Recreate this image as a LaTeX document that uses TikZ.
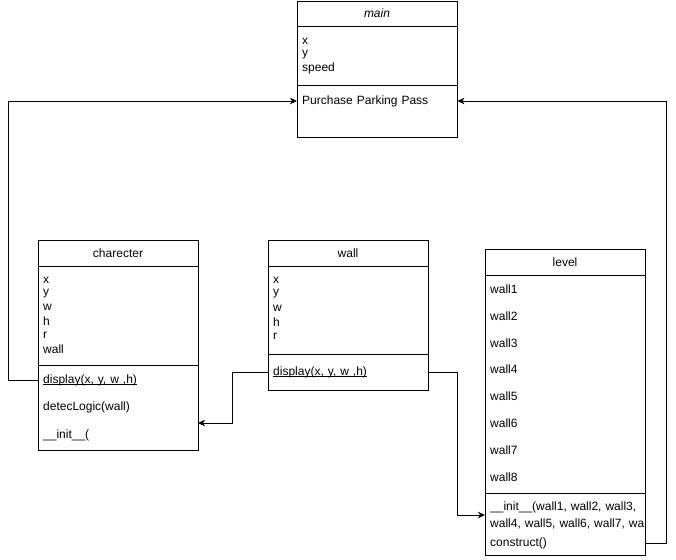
\documentclass[tikz,border=0pt]{standalone}
\usepackage{fontspec}
\setmainfont{Liberation Sans}
\usetikzlibrary{arrows.meta}
\newcommand{\umlfont}{\fontsize{12}{13.8}\selectfont}
% underline placed just below the baseline
\newcommand{\uln}[1]{\setbox0\hbox{#1}\rlap{\rule[-1.6pt]{\wd0}{0.6pt}}\box0}
\tikzset{
  box/.style={draw, line width=0.9pt, anchor=north west, minimum width=160pt, inner sep=0pt},
  sep/.style={line width=0.9pt},
  title/.style={font=\umlfont, inner sep=0pt},
  row/.style={anchor=west, inner xsep=5pt, inner ysep=0pt, text width=150pt, align=left, font=\umlfont},
  conn/.style={line width=0.9pt, -{Stealth[length=7pt, width=6.5pt, inset=2pt]}},
}
\begin{document}
\begin{tikzpicture}[x=1pt, y=-1pt]
  \useasboundingbox (0,0) rectangle (676,559);

  % class: main
  \node[box, minimum height=136pt] (main) at (297,1) {};
  \draw[sep] (297,26) -- (457,26);
  \draw[sep] (297,85) -- (457,85);
  \node[title, font=\umlfont\itshape] (maintitle) at (377,13) {main};
  \node[row] (mainx) at (297,41) {x};
  \node[row] (mainy) at (297,54.5) {y};
  \node[row] (mainspeed) at (297,68) {speed};
  \node[row] (mainop) at (297,101) {Purchase Parking Pass};

  % class: charecter
  \node[box, minimum height=210pt] (char) at (38,240) {};
  \draw[sep] (38,266) -- (198,266);
  \draw[sep] (38,365) -- (198,365);
  \node[title] (chartitle) at (118,253) {charecter};
  \foreach \t [count=\i from 0] in {x,y,w,h,r,wall}
    \node[row] (charattr\i) at (38,280+13.8*\i) {\t};
  \node[row] (chardisp) at (38,380) {\uln{display(x, y, w ,h)}};
  \node[row] (chardet) at (38,407) {detecLogic(wall)};
  \node[row] (charinit) at (38,435) {\_\_init\_\_(};
  \coordinate (charin) at (198,423);

  % class: wall
  \node[box, minimum height=150pt] (wall) at (268,240) {};
  \draw[sep] (268,266) -- (428,266);
  \draw[sep] (268,354) -- (428,354);
  \node[title] (walltitle) at (348,253) {wall};
  \foreach \t [count=\i from 0] in {x,y,w,h,r}
    \node[row] (wallattr\i) at (268,280+14*\i) {\t};
  \node[row] (walldisp) at (268,372) {\uln{display(x, y, w ,h)}};

  % class: level
  \node[box, minimum height=306pt] (level) at (485,249) {};
  \draw[sep] (485,275) -- (645,275);
  \draw[sep] (485,493) -- (645,493);
  \node[title] (leveltitle) at (565,262) {level};
  \foreach \i in {1,...,8}
    \node[row] (levwall\i) at (485,289+26.9*\i-26.9) {wall\i};
  \node[row, text width=170pt, font=\fontsize{12}{17}\selectfont] (levinit) at (485,515) {\_\_init\_\_(wall1, wall2, wall3,\\wall4, wall5, wall6, wall7, wa};
  \node[row] (levcons) at (485,543) {construct()};

  % connectors
  \draw[conn] (chardisp.west) -- ++(-30,0) |- (mainop.west);
  \draw[conn] (levcons.east) -- ++(21,0) |- (mainop.east);
  \draw[conn] (walldisp.west) -- ++(-36,0) |- (charin);
  \draw[conn] (walldisp.east) -- ++(29,0) |- (levinit.west);
\end{tikzpicture}
\end{document}
